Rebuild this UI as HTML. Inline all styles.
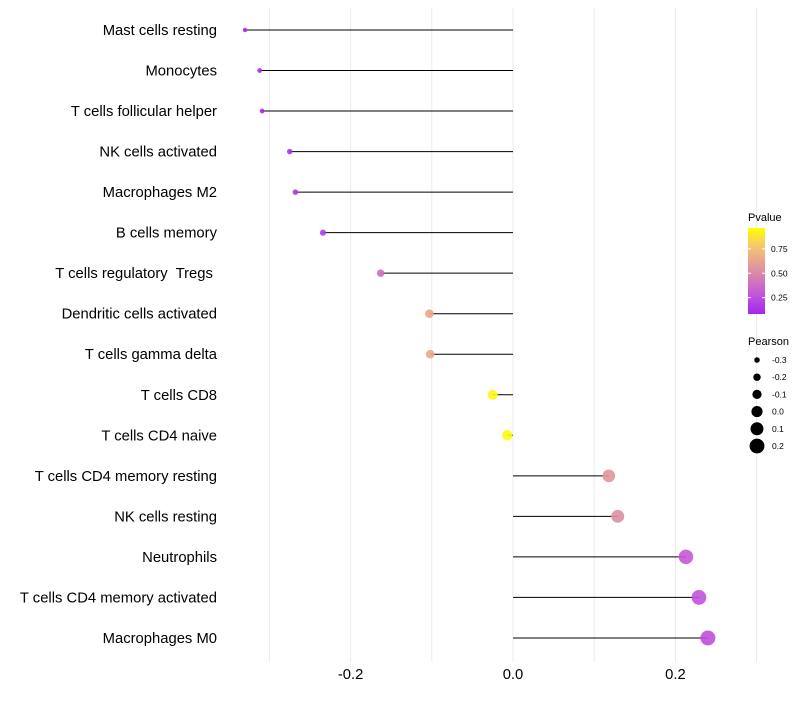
<!DOCTYPE html>
<html><head><meta charset="utf-8"><style>
body{margin:0;background:#fff;font-family:"Liberation Sans",sans-serif;}
svg text{font-family:"Liberation Sans",sans-serif;white-space:pre;}
</style></head><body>
<svg id="chart" width="800" height="700"></svg>
<script>
const categories=["Mast cells resting","Monocytes","T cells follicular helper","NK cells activated","Macrophages M2","B cells memory","T cells regulatory  Tregs ","Dendritic cells activated","T cells gamma delta","T cells CD8","T cells CD4 naive","T cells CD4 memory resting","NK cells resting","Neutrophils","T cells CD4 memory activated","Macrophages M0"];
const pearson=[-0.330,-0.312,-0.309,-0.275,-0.268,-0.234,-0.163,-0.103,-0.102,-0.025,-0.007,0.118,0.129,0.213,0.229,0.240];
const pvalues=[0.03,0.05,0.05,0.07,0.09,0.13,0.36,0.64,0.64,0.97,0.98,0.56,0.52,0.27,0.24,0.22];
const xTicks=[-0.2,0,0.2];
const xTickLabels=["-0.2","0.0","0.2"];
const pTicks=[0.25,0.5,0.75];
const sizeLegend=[-0.3,-0.2,-0.1,0.0,0.1,0.2];
const sizeLegendLabels=["-0.3","-0.2","-0.1","0.0","0.1","0.2"];

const NS="http://www.w3.org/2000/svg";
const svg=document.getElementById('chart');
function mk(t,a,p){const e=document.createElementNS(NS,t);for(const k in a)e.setAttribute(k,a[k]);(p||svg).appendChild(e);return e;}
const x=v=>513+v*812;
const y=i=>30+i*40.53;
const r=v=>2.2+(v+0.33)/0.57*5.3;
const stops=[[0,[160,32,240]],[0.25,[195,85,220]],[0.5,[218,140,168]],[0.65,[236,168,136]],[0.8,[245,200,110]],[1,[255,255,0]]];
function col(p){for(let i=1;i<stops.length;i++){if(p<=stops[i][0]){const [p0,a]=stops[i-1],[p1,b]=stops[i];const t=(p-p0)/(p1-p0);return `rgb(${a.map((c,j)=>Math.round(c+(b[j]-c)*t)).join(',')})`;}}return 'rgb(255,255,0)';}

[-0.3,-0.2,-0.1,0,0.1,0.2,0.3].forEach(v=>{
 const g=mk('line',{x1:x(v),x2:x(v),y1:8,y2:662,stroke:'#ebebeb','stroke-width':1});
 
 
});
xTicks.forEach((v,i)=>{
 const t=mk('text',{x:x(v),y:679,'text-anchor':'middle','font-size':14.8,fill:'#000'});
 t.textContent=xTickLabels[i];
 
 
});
categories.forEach((c,i)=>{
 const t=mk('text',{x:217,y:y(i)+5,'text-anchor':'end','font-size':14.8,fill:'#000'});
 t.textContent=c;
 
 
 const l=mk('line',{x1:x(0),x2:x(pearson[i]),y1:y(i),y2:y(i),stroke:'#000','stroke-width':1});
 
 
 const d=mk('circle',{cx:x(pearson[i]),cy:y(i),r:r(pearson[i]),fill:col(pvalues[i]),'fill-opacity':0.9});
 
 
});
const lt=mk('text',{x:748,y:221,'font-size':11}); lt.textContent='Pvalue';


const defs=mk('defs',{});
const gr=mk('linearGradient',{id:'pg',x1:0,y1:1,x2:0,y2:0},defs);
[0.03,0.25,0.5,0.65,0.8,1].forEach((p,i)=>mk('stop',{offset:(p-0.03)/0.97,'stop-color':col(p)},gr));
const bar=mk('rect',{x:748,y:228,width:17,height:86,fill:'url(#pg)'});


const py=p=>322-p*97.5;
pTicks.forEach(p=>{
 mk('line',{x1:748,x2:751,y1:py(p),y2:py(p),stroke:'#fff'});mk('line',{x1:762,x2:765,y1:py(p),y2:py(p),stroke:'#fff'});
 const t=mk('text',{x:771,y:py(p)+3,'font-size':8.5}); t.textContent=p.toFixed(2);
 
 
});
const st=mk('text',{x:748,y:345,'font-size':11}); st.textContent='Pearson';


sizeLegend.forEach((v,i)=>{
 const yy=360+i*17.2;
 const c=mk('circle',{cx:757,cy:yy,r:r(v)+0.3,fill:'#000'});
 
 
 const t=mk('text',{x:772,y:yy+3,'font-size':8.5}); t.textContent=sizeLegendLabels[i];
 
 
});
</script>
</body></html>
